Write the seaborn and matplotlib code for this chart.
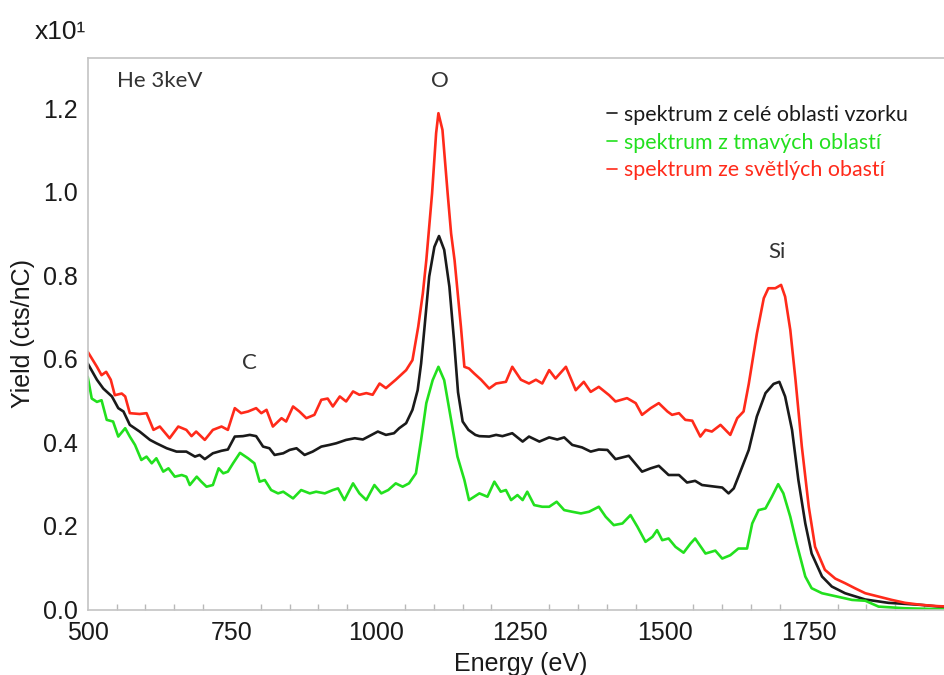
import numpy as np
import pandas as pd
import matplotlib
matplotlib.use("Agg")
import matplotlib.pyplot as plt
import seaborn as sns
from matplotlib.lines import Line2D

# ---- data ----
black_x = [500, 516, 527, 542, 553, 562, 573, 590, 608, 619, 637, 654, 671, 686, 694, 703, 717, 732, 743, 755,
           769, 781, 792, 804, 815, 824, 839, 850, 862, 876, 890, 905, 919, 931, 948, 963, 977, 988, 1003, 1017,
           1031, 1040, 1052, 1063, 1072, 1078, 1084, 1092, 1101, 1109, 1118, 1127, 1135, 1142, 1150, 1160, 1172,
           1179, 1196, 1208, 1219, 1236, 1254, 1265, 1283, 1300, 1314, 1326, 1340, 1357, 1372, 1386, 1401, 1415,
           1438, 1461, 1476, 1490, 1507, 1525, 1539, 1553, 1565, 1588, 1600, 1611, 1620, 1628, 1646, 1660, 1675,
           1689, 1699, 1709, 1721, 1732, 1744, 1755, 1773, 1790, 1813, 1848, 1888, 1946, 1975, 2000]
black_y = [0.589, 0.55, 0.529, 0.51, 0.482, 0.474, 0.442, 0.426, 0.406, 0.398, 0.386, 0.378, 0.378, 0.366, 0.37,
           0.36, 0.374, 0.38, 0.383, 0.414, 0.415, 0.418, 0.415, 0.39, 0.386, 0.37, 0.374, 0.382, 0.386, 0.37,
           0.378, 0.39, 0.394, 0.398, 0.406, 0.41, 0.407, 0.415, 0.426, 0.418, 0.422, 0.434, 0.446, 0.478, 0.525,
           0.589, 0.677, 0.797, 0.868, 0.894, 0.861, 0.773, 0.645, 0.52, 0.45, 0.43, 0.418, 0.415, 0.414, 0.418,
           0.415, 0.422, 0.402, 0.414, 0.402, 0.412, 0.407, 0.412, 0.394, 0.388, 0.378, 0.383, 0.382, 0.36, 0.368,
           0.33, 0.338, 0.344, 0.322, 0.322, 0.304, 0.308, 0.298, 0.294, 0.292, 0.278, 0.29, 0.318, 0.382, 0.462,
           0.518, 0.540, 0.545, 0.51, 0.43, 0.31, 0.206, 0.134, 0.079, 0.055, 0.039, 0.024, 0.016, 0.011, 0.007,
           0.006]

red_x = [500, 516, 524, 532, 540, 547, 559, 565, 573, 590, 602, 614, 625, 642, 657, 671, 680, 688, 703, 717, 732,
         743, 755, 766, 778, 792, 801, 810, 821, 836, 844, 856, 867, 879, 893, 905, 916, 925, 937, 948, 960, 971,
         983, 994, 1006, 1017, 1034, 1052, 1063, 1073, 1081, 1087, 1097, 1104, 1108, 1115, 1124, 1130, 1136, 1147,
         1153, 1161, 1170, 1182, 1196, 1208, 1225, 1236, 1251, 1265, 1277, 1288, 1300, 1311, 1329, 1346, 1360,
         1372, 1386, 1404, 1415, 1435, 1450, 1461, 1476, 1490, 1505, 1513, 1525, 1536, 1548, 1562, 1571, 1582,
         1597, 1614, 1626, 1637, 1646, 1660, 1672, 1680, 1692, 1702, 1709, 1718, 1727, 1738, 1750, 1761, 1778,
         1796, 1813, 1830, 1848, 1871, 1894, 1917, 1946, 1975, 2000]
red_y = [0.617, 0.581, 0.561, 0.569, 0.55, 0.513, 0.517, 0.51, 0.47, 0.468, 0.47, 0.43, 0.438, 0.41, 0.438, 0.43,
         0.415, 0.426, 0.406, 0.43, 0.438, 0.43, 0.482, 0.47, 0.474, 0.482, 0.47, 0.478, 0.438, 0.458, 0.45,
         0.486, 0.474, 0.458, 0.466, 0.502, 0.505, 0.486, 0.51, 0.498, 0.522, 0.514, 0.518, 0.514, 0.541, 0.53,
         0.55, 0.573, 0.597, 0.677, 0.757, 0.836, 0.996, 1.14, 1.188, 1.148, 0.996, 0.9, 0.836, 0.677, 0.581,
         0.577, 0.565, 0.55, 0.529, 0.541, 0.545, 0.581, 0.55, 0.541, 0.55, 0.541, 0.573, 0.553, 0.581, 0.525,
         0.545, 0.521, 0.533, 0.513, 0.498, 0.506, 0.494, 0.466, 0.482, 0.494, 0.474, 0.466, 0.47, 0.454, 0.452,
         0.414, 0.43, 0.426, 0.442, 0.418, 0.458, 0.474, 0.54, 0.66, 0.745, 0.769, 0.769, 0.777, 0.749, 0.669,
         0.55, 0.39, 0.246, 0.15, 0.095, 0.074, 0.063, 0.051, 0.039, 0.031, 0.023, 0.016, 0.011, 0.008, 0.007]

green_x = [500, 507, 516, 524, 533, 544, 553, 565, 573, 582, 593, 602, 611, 619, 631, 640, 651, 663, 671, 677,
           689, 697, 706, 717, 727, 735, 743, 752, 764, 778, 789, 798, 807, 818, 830, 839, 856, 870, 885, 896,
           911, 925, 934, 945, 960, 971, 983, 997, 1009, 1021, 1034, 1046, 1057, 1069, 1078, 1087, 1098, 1108,
           1118, 1130, 1141, 1153, 1161, 1170, 1179, 1193, 1205, 1216, 1225, 1234, 1245, 1254, 1262, 1274, 1288,
           1300, 1313, 1326, 1340, 1355, 1369, 1386, 1398, 1412, 1427, 1441, 1453, 1467, 1479, 1487, 1496, 1507,
           1519, 1533, 1545, 1553, 1571, 1588, 1600, 1614, 1628, 1643, 1652, 1663, 1675, 1686, 1697, 1706, 1718,
           1729, 1744, 1755, 1773, 1796, 1825, 1848, 1871, 1917, 1975, 2000]
green_y = [0.557, 0.505, 0.497, 0.501, 0.454, 0.45, 0.414, 0.434, 0.414, 0.394, 0.358, 0.366, 0.35, 0.362, 0.33,
           0.338, 0.318, 0.322, 0.318, 0.298, 0.318, 0.306, 0.294, 0.298, 0.338, 0.326, 0.33, 0.35, 0.375, 0.362,
           0.35, 0.306, 0.31, 0.286, 0.278, 0.282, 0.266, 0.286, 0.278, 0.282, 0.278, 0.286, 0.29, 0.262, 0.302,
           0.278, 0.262, 0.298, 0.278, 0.286, 0.302, 0.294, 0.302, 0.326, 0.406, 0.494, 0.549, 0.581, 0.549, 0.454,
           0.366, 0.31, 0.262, 0.27, 0.278, 0.27, 0.306, 0.282, 0.286, 0.262, 0.274, 0.262, 0.282, 0.25, 0.246,
           0.246, 0.258, 0.238, 0.234, 0.23, 0.234, 0.246, 0.222, 0.202, 0.206, 0.226, 0.198, 0.162, 0.174, 0.19,
           0.166, 0.17, 0.15, 0.136, 0.158, 0.17, 0.134, 0.141, 0.122, 0.13, 0.146, 0.146, 0.206, 0.238, 0.242,
           0.27, 0.30, 0.278, 0.222, 0.158, 0.079, 0.051, 0.039, 0.032, 0.023, 0.021, 0.007, 0.003, 0.001, 0.001]

series_labels = ["spektrum z celé oblasti vzorku", "spektrum z tmavých oblastí", "spektrum ze světlých obastí"]
series_colors = ["#1a1a1a", "#22e01e", "#ff2a1a"]
y_ticks = [0.0, 0.2, 0.4, 0.6, 0.8, 1.0, 1.2]
x_ticks = [500, 750, 1000, 1250, 1500, 1750]
peak_labels = [("C", 781, 0.59), ("O", 1110, 1.265), ("Si", 1695, 0.855)]

df = pd.concat([
    pd.DataFrame({"Energy": black_x, "Yield": black_y, "series": series_labels[0]}),
    pd.DataFrame({"Energy": green_x, "Yield": green_y, "series": series_labels[1]}),
    pd.DataFrame({"Energy": red_x, "Yield": red_y, "series": series_labels[2]}),
], ignore_index=True)

sns.set_style("white")
plt.rcParams["font.family"] = ["Liberation Sans", "DejaVu Sans"]

fig = plt.figure(figsize=(9.44, 6.75), dpi=100)
ax = fig.add_axes([0.0929, 0.097, 0.9166, 0.817])

sns.lineplot(data=df, x="Energy", y="Yield", hue="series", hue_order=series_labels,
             palette=series_colors, estimator=None, sort=False, linewidth=1.9, ax=ax, legend=False,
             solid_joinstyle="round", solid_capstyle="round")

ax.set_xlim(500, 2000)
ax.set_ylim(0, 1.32)
ax.set_xticks(x_ticks)
ax.set_xticks(np.arange(500, 2001, 50), minor=True)
ax.set_yticks(y_ticks)
ax.set_yticklabels([f"{v:.1f}" for v in y_ticks])
ax.tick_params(axis="x", which="major", direction="inout", length=7, width=1,
               labelsize=18, pad=5, labelcolor="#1a1a1a", color="#b8b8b8")
ax.tick_params(axis="x", which="minor", direction="in", length=4, width=1, color="#b8b8b8", bottom=True)
ax.tick_params(axis="y", which="major", direction="out", length=5, width=1, labelsize=18, pad=2,
               labelcolor="#1a1a1a", color="#b8b8b8")
for s in ["left", "bottom", "top"]:
    ax.spines[s].set_color("#c4c4c4")
    ax.spines[s].set_linewidth(1.2)
ax.spines["right"].set_visible(False)

ax.set_xlabel("Energy (eV)", fontsize=18, color="#1a1a1a", labelpad=5)
ax.set_ylabel("Yield (cts/nC)", fontsize=18, color="#1a1a1a", labelpad=6)

fig.text(0.037, 0.952, "x10¹", fontsize=19, color="#1a1a1a", va="center", ha="left")

ann_font = ["Lato", "DejaVu Sans"]
ax.text(0.034, 0.958, "He 3keV", transform=ax.transAxes, fontsize=16, color="#333333",
        family=ann_font, va="center", ha="left")
for txt, xv, yv in peak_labels:
    ax.text(xv, yv, txt, fontsize=16, color="#333333", family=ann_font, ha="center", va="center")

handles = [Line2D([0], [0], color=c, lw=1.2) for c in series_colors]
leg = ax.legend(handles, series_labels, loc="upper left", bbox_to_anchor=(0.578, 0.95),
                frameon=False, handlelength=0.45, handletextpad=0.35, labelspacing=0.36,
                prop={"family": ann_font, "size": 15.4}, labelcolor=series_colors)

fig.savefig("out.png", dpi=100)
